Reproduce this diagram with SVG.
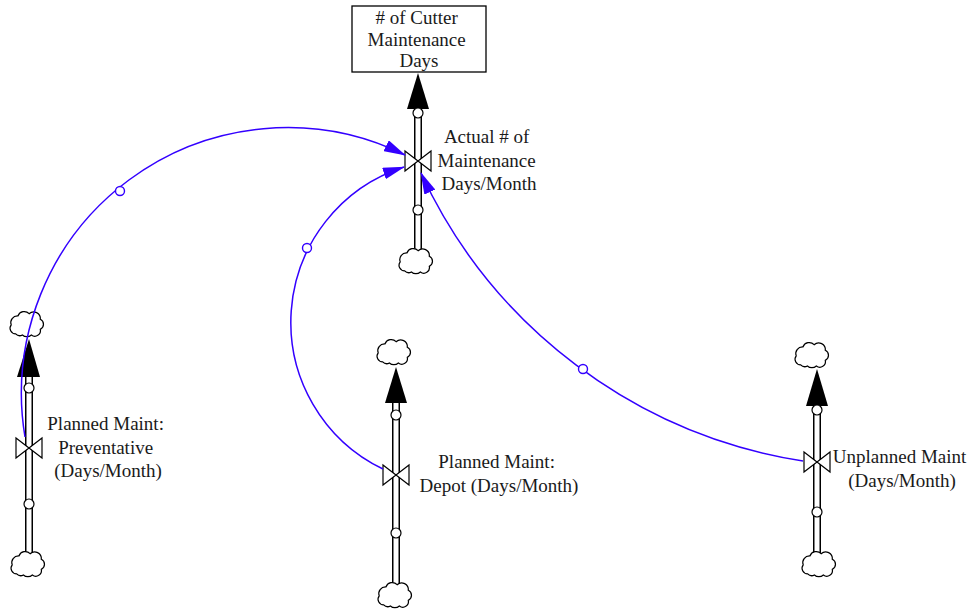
<svg xmlns="http://www.w3.org/2000/svg" width="980" height="611" viewBox="0 0 980 611">
<style>
  .lbl { font-family: "Liberation Serif", "Times New Roman", serif; font-size: 19px; fill: #1a1a1a; text-anchor: middle; }
  .pipeo { stroke: #000; stroke-width: 8; fill: none; }
  .pipei { stroke: #fff; stroke-width: 5; fill: none; }
  .pc { fill: #fff; stroke: #000; stroke-width: 1.2; }
  .valve { fill: #fff; stroke: #000; stroke-width: 1.2; stroke-linejoin: miter; }
  .cloud { fill: #fff; stroke: #000; stroke-width: 1.1; }
  .head { fill: #000; }
  .conn { fill: none; stroke: #3300ff; stroke-width: 1.5; marker-end: url(#bh); }
  .cc { fill: #fff; stroke: #3300ff; stroke-width: 1.4; }
</style>
<defs>
  <marker id="bh" viewBox="0 0 22 12" markerWidth="22" markerHeight="12" refX="21" refY="6" orient="auto" markerUnits="userSpaceOnUse">
    <path d="M0,0 L22,6 L0,12 z" fill="#3300ff"/>
  </marker>
  <path id="cloudp" class="cloud" d="M-11,7 a5,5 0 0 1 -4,-8 a6,6 0 0 1 6,-8 a6,6 0 0 1 10,-2 a6,6 0 0 1 10,5 a5,5 0 0 1 0,9 a5,5 0 0 1 -8,5 a6,6 0 0 1 -8,0 a5,5 0 0 1 -6,-1 z"/>
  <polygon id="valvep" class="valve" points="-13,-10 13,10 13,-10 -13,10"/>
</defs>
<rect width="980" height="611" fill="#fff"/>

<!-- Stock -->
<g id="stock-cutter">
  <rect x="352" y="6" width="134" height="66" fill="#fff" stroke="#000" stroke-width="1.3"/>
  <text class="lbl">
    <tspan x="419" y="24"># of Cutter</tspan>
    <tspan x="419" y="46">Maintenance</tspan>
    <tspan x="419" y="67">Days</tspan>
  </text>
</g>

<!-- Actual flow -->
<g id="flow-actual">
  <line class="pipeo" x1="418" y1="105" x2="418" y2="253"/>
  <line class="pipei" x1="418" y1="105" x2="418" y2="253"/>
  <polygon class="head" points="407,109 429,109 418,73"/>
  <circle class="pc" cx="418" cy="113" r="5"/>
  <circle class="pc" cx="418" cy="210" r="5"/>
  <use href="#valvep" x="418" y="161"/>
  <text class="lbl">
    <tspan x="489" y="143">Actual # of</tspan>
    <tspan x="489" y="167">Maintenance</tspan>
    <tspan x="489" y="190">Days/Month</tspan>
  </text>
</g>
<g id="cloud-actual-src"><use href="#cloudp" transform="translate(417,263) scale(1.12)"/></g>

<!-- Preventative flow -->
<g id="flow-preventative">
  <line class="pipeo" x1="29" y1="373" x2="29" y2="556"/>
  <line class="pipei" x1="29" y1="373" x2="29" y2="556"/>
  <polygon class="head" points="17,377 40,377 29,339"/>
  <circle class="pc" cx="29" cy="388" r="5"/>
  <circle class="pc" cx="29" cy="504" r="5"/>
  <use href="#valvep" x="29" y="448"/>
  <text class="lbl">
    <tspan x="108" y="430">Planned Maint:</tspan>
    <tspan x="108" y="454">Preventative</tspan>
    <tspan x="108" y="477">(Days/Month)</tspan>
  </text>
</g>
<g id="cloud-prev-sink"><use href="#cloudp" transform="translate(28,326) scale(1.12)"/></g>
<g id="cloud-prev-src"><use href="#cloudp" transform="translate(29,566) scale(1.12)"/></g>

<!-- Depot flow -->
<g id="flow-depot">
  <line class="pipeo" x1="396" y1="399" x2="396" y2="588"/>
  <line class="pipei" x1="396" y1="399" x2="396" y2="588"/>
  <polygon class="head" points="385,403 407,403 396,367"/>
  <circle class="pc" cx="396" cy="415" r="5"/>
  <circle class="pc" cx="396" cy="533" r="5"/>
  <use href="#valvep" x="396" y="475"/>
  <text class="lbl">
    <tspan x="499" y="468">Planned Maint:</tspan>
    <tspan x="499" y="492">Depot (Days/Month)</tspan>
  </text>
</g>
<g id="cloud-depot-sink"><use href="#cloudp" transform="translate(395,354) scale(1.12)"/></g>
<g id="cloud-depot-src"><use href="#cloudp" transform="translate(396,597) scale(1.12)"/></g>

<!-- Unplanned flow -->
<g id="flow-unplanned">
  <line class="pipeo" x1="817" y1="402" x2="817" y2="556"/>
  <line class="pipei" x1="817" y1="402" x2="817" y2="556"/>
  <polygon class="head" points="806,406 828,406 817,369"/>
  <circle class="pc" cx="817" cy="410" r="5"/>
  <circle class="pc" cx="817" cy="512" r="5"/>
  <use href="#valvep" x="817" y="462"/>
  <text class="lbl">
    <tspan x="902" y="463">Unplanned Maint</tspan>
    <tspan x="902" y="487">(Days/Month)</tspan>
  </text>
</g>
<g id="cloud-unpl-sink"><use href="#cloudp" transform="translate(813,357) scale(1.12)"/></g>
<g id="cloud-unpl-src"><use href="#cloudp" transform="translate(820,566) scale(1.12)"/></g>

<!-- Connectors -->
<g id="connectors">
  <path class="conn" d="M25,437 A266,266 0 0 1 405,155"/>
  <circle class="cc" cx="120" cy="191" r="4.5"/>
  <path class="conn" d="M383,469 A163,163 0 0 1 404,167"/>
  <circle class="cc" cx="307" cy="248" r="4.5"/>
  <path class="conn" d="M803,461 A507,507 0 0 1 421,173"/>
  <circle class="cc" cx="583" cy="369" r="4.5"/>
</g>
</svg>
